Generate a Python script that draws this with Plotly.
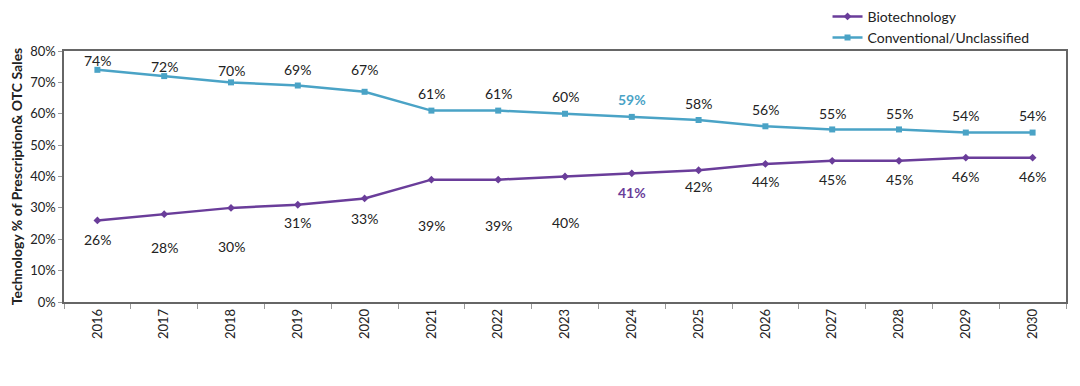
import plotly.graph_objects as go

years = [str(y) for y in range(2016, 2031)]
biotech = [26, 28, 30, 31, 33, 39, 39, 40, 41, 42, 44, 45, 45, 46, 46]
conventional = [74, 72, 70, 69, 67, 61, 61, 60, 59, 58, 56, 55, 55, 54, 54]

# label styling (pixel offsets of the value labels)
conv_shift = [9, 10, 12, 16, 22, 17, 17, 17, 17, 17, 17, 16, 16, 17, 17]
bio_shift = [-19, -33, -39, -18, -20, -46, -46, -46, -19, -16, -18, -19, -19, -19, -19]
highlight_idx = 8

PURPLE = "#6a3d9a"
BLUE = "#4aa3c6"
FONT = "Lato, 'Open Sans', sans-serif"

fig = go.Figure()
fig.add_trace(go.Scatter(
    x=years, y=biotech, name="Biotechnology", mode="lines+markers",
    line=dict(color=PURPLE, width=2.5),
    marker=dict(symbol="diamond", size=6, color=PURPLE),
))
fig.add_trace(go.Scatter(
    x=years, y=conventional, name="Conventional/Unclassified", mode="lines+markers",
    line=dict(color=BLUE, width=2.5),
    marker=dict(symbol="square", size=6, color=BLUE),
))

for i, (b, c) in enumerate(zip(biotech, conventional)):
    hl = i == highlight_idx
    fig.add_annotation(x=i, y=c, text=(f"<b>{c}%</b>" if hl else f"{c}%"),
                       showarrow=False, yshift=conv_shift[i],
                       font=dict(size=14, color=BLUE if hl else "#222222", family=FONT))
    fig.add_annotation(x=i, y=b, text=(f"<b>{b}%</b>" if hl else f"{b}%"),
                       showarrow=False, yshift=bio_shift[i],
                       font=dict(size=14, color=PURPLE if hl else "#222222", family=FONT))

fig.update_layout(
    width=1064, height=370,
    margin=dict(l=56, r=6, t=43, b=76, autoexpand=False),
    paper_bgcolor="white", plot_bgcolor="white",
    font=dict(family=FONT, color="#222222"),
    showlegend=True,
    legend=dict(x=0.762, y=1.2, xanchor="left", yanchor="top",
                font=dict(size=14, color="#222222", family=FONT),
                bgcolor="rgba(0,0,0,0)", tracegroupgap=0, itemwidth=30),
    xaxis=dict(
        type="category", categoryarray=years, range=[-0.5, len(years) - 0.5],
        tickangle=-90, tickfont=dict(size=13, family=FONT), automargin=False,
        showgrid=False, showline=True, linecolor="#666666", linewidth=1.5,
        mirror=True, ticks="outside", ticklen=5, tickcolor="#999999",
        tickson="boundaries",
    ),
    yaxis=dict(
        range=[0, 80], dtick=10, ticksuffix="%", tickfont=dict(size=13, family=FONT),
        showgrid=False, showline=True, linecolor="#666666", linewidth=1.5,
        mirror=True, ticks="outside", ticklen=4, tickcolor="#999999", automargin=False,
        title=dict(text="<b>Technology % of Prescription& OTC Sales</b>",
                   font=dict(size=14, family=FONT), standoff=4),
    ),
)

fig.write_html("out.html")
